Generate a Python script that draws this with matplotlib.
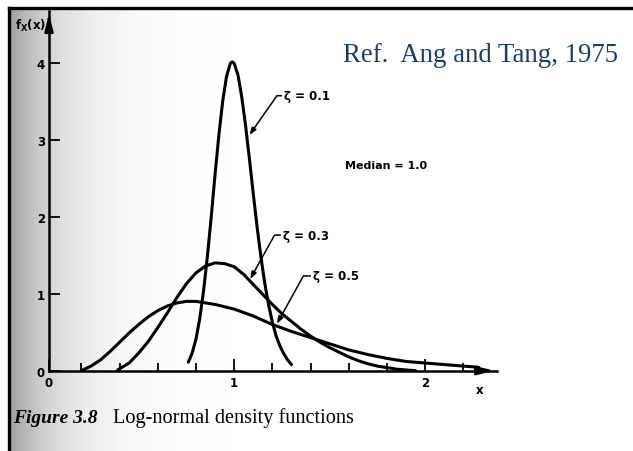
import numpy as np
import matplotlib
matplotlib.use("Agg")
from matplotlib import pyplot as plt
from matplotlib.lines import Line2D

plt.rcParams["font.family"] = ["DejaVu Sans"]
plt.rcParams["mathtext.fontset"] = "dejavusans"

# values (median = 1.0)
zeta01_x = [0.76, 0.78, 0.80, 0.82, 0.84, 0.86, 0.88, 0.90, 0.92, 0.94, 0.96, 0.98, 0.99, 1.00,
            1.02, 1.04, 1.06, 1.08, 1.10, 1.12, 1.14, 1.16, 1.18, 1.20, 1.22, 1.24, 1.26, 1.28, 1.30]
zeta01_y = [0.11, 0.23, 0.41, 0.68, 1.04, 1.49, 2.00, 2.55, 3.06, 3.50, 3.82, 3.99, 4.01, 3.99,
            3.84, 3.55, 3.18, 2.75, 2.30, 1.87, 1.48, 1.14, 0.86, 0.63, 0.45, 0.32, 0.22, 0.14, 0.08]

zeta03_x = [0.39, 0.45, 0.50, 0.55, 0.60, 0.65, 0.70, 0.75, 0.80, 0.85, 0.90, 0.95, 1.00, 1.05,
            1.10, 1.15, 1.20, 1.25, 1.30, 1.35, 1.40, 1.45, 1.50, 1.55, 1.60, 1.65, 1.70, 1.75,
            1.80, 1.85, 1.90, 1.95]
zeta03_y = [0.01, 0.10, 0.23, 0.38, 0.56, 0.75, 0.95, 1.13, 1.27, 1.36, 1.40, 1.39, 1.35, 1.25,
            1.12, 0.99, 0.86, 0.74, 0.64, 0.54, 0.45, 0.37, 0.30, 0.24, 0.18, 0.13, 0.09, 0.06,
            0.04, 0.02, 0.01, 0.00]

zeta05_x = [0.20, 0.25, 0.30, 0.35, 0.40, 0.45, 0.50, 0.55, 0.60, 0.65, 0.70, 0.75, 0.80, 0.85,
            0.90, 0.95, 1.00, 1.10, 1.20, 1.30, 1.40, 1.50, 1.60, 1.70, 1.80, 1.90, 2.00, 2.10,
            2.20, 2.28]
zeta05_y = [0.00, 0.06, 0.14, 0.25, 0.37, 0.49, 0.60, 0.70, 0.78, 0.84, 0.88, 0.90, 0.90, 0.88,
            0.86, 0.83, 0.80, 0.71, 0.60, 0.51, 0.43, 0.35, 0.27, 0.21, 0.16, 0.12, 0.10, 0.08,
            0.06, 0.045]

y_ticks = [0, 1, 2, 3, 4]
x_major = [0.03, 1, 2]
x_major_labels = ["0", "1", "2"]
x_minor = [0.2, 0.4, 0.6, 0.8, 1.2, 1.4, 1.6, 1.8, 2.2]

W, H = 633, 452
fig = plt.figure(figsize=(W / 100, H / 100), dpi=100)

# scan shading on the left side (white outside the slide frame)
bg = fig.add_axes([0, 0, 1, 1], zorder=-10)
px = np.arange(W)
shade = 1 - 0.38 * np.exp(-np.clip(px - 10, 0, None) / 48.0)
shade[px < 9] = 1.0
img = np.tile(shade, (H, 1))
img[:9, :] = 1.0
bg.imshow(img, cmap="gray", vmin=0, vmax=1, aspect="auto", extent=[0, W, H, 0])
bg.set_xlim(0, W)
bg.set_ylim(H, 0)
bg.axis("off")

# slide frame (top + left)
fig.add_artist(Line2D([9 / W, 1], [1 - 9 / H, 1 - 9 / H], color="black", lw=2.4))
fig.add_artist(Line2D([9 / W, 9 / W], [0, 1 - 9 / H], color="black", lw=2.4))

ax = fig.add_axes([49 / W, (H - 371.7) / H, 448 / W, 359.7 / H])
ax.patch.set_alpha(0)

lw = 2.2
ax.plot(zeta01_x, zeta01_y, color="black", lw=lw, solid_capstyle="round")
ax.plot(zeta03_x, zeta03_y, color="black", lw=lw, solid_capstyle="round")
ax.plot(zeta05_x, zeta05_y, color="black", lw=lw, solid_capstyle="round")

ax.set_xlim(0.03, 2.377)
ax.set_ylim(0, 4.67)

for s in ["top", "right"]:
    ax.spines[s].set_visible(False)
for s in ["left", "bottom"]:
    ax.spines[s].set_linewidth(1.8)

# axis arrows
ax.annotate("", xy=(1.0, 0), xytext=(0.96, 0), xycoords="axes fraction",
            arrowprops=dict(arrowstyle="-|>,head_length=1.0,head_width=0.25", color="black", lw=1.8))
ax.annotate("", xy=(0, 1.0), xytext=(0, 0.96), xycoords="axes fraction",
            arrowprops=dict(arrowstyle="-|>,head_length=1.0,head_width=0.25", color="black", lw=1.8))

ax.set_yticks(y_ticks)
ax.set_yticklabels([str(v) for v in y_ticks], fontweight="bold", fontsize=8.5)
ax.tick_params(axis="y", direction="in", length=8, width=1.3, pad=3)

ax.set_xticks(x_major)
ax.set_xticklabels(x_major_labels, fontweight="bold", fontsize=8.5)
ax.set_xticks(x_minor, minor=True)
ax.tick_params(axis="x", which="major", direction="in", length=9, width=1.3, pad=4)
ax.tick_params(axis="x", which="minor", direction="in", length=6, width=1.3)

ax.set_xlabel("x", fontweight="bold", fontsize=8.5)
ax.xaxis.set_label_coords(0.962, -0.035)
ax.set_ylabel(r"$\mathbf{f_X(x)}$", rotation=0, fontsize=8.5)
ax.yaxis.set_label_coords(-0.04, 0.94)

# curve labels with leader arrows
lab = dict(fontsize=8.5, fontweight="bold", ha="left", va="center")
arr = dict(arrowstyle="-|>,head_length=0.5,head_width=0.18", color="black", lw=1.1,
           shrinkA=0, shrinkB=0)
ax.annotate("ζ = 0.1", xy=(1.08, 3.06), xytext=(1.262, 3.57), **lab,
            arrowprops=dict(arr, connectionstyle="angle,angleA=0,angleB=55"))
ax.annotate("ζ = 0.3", xy=(1.084, 1.19), xytext=(1.257, 1.76), **lab,
            arrowprops=dict(arr, connectionstyle="angle,angleA=0,angleB=61"))
ax.annotate("ζ = 0.5", xy=(1.224, 0.61), xytext=(1.414, 1.23), **lab,
            arrowprops=dict(arr, connectionstyle="angle,angleA=0,angleB=61"))

ax.text(1.58, 2.67, "Median = 1.0", fontsize=8, fontweight="bold", ha="left", va="center")

fig.text(343 / W, 1 - 55 / H, "Ref.  Ang and Tang, 1975", fontsize=19.3, family="Liberation Serif",
         color="#1b3d6e", ha="left", va="center")

fig.text(13 / W, 1 - 423 / H, "Figure 3.8", fontsize=14, family="Liberation Serif",
         fontweight="bold", style="italic", ha="left", va="baseline")
fig.text(113 / W, 1 - 423 / H, "Log-normal density functions", fontsize=14.6,
         family="Liberation Serif", ha="left", va="baseline")

fig.savefig("out.png", dpi=100)
